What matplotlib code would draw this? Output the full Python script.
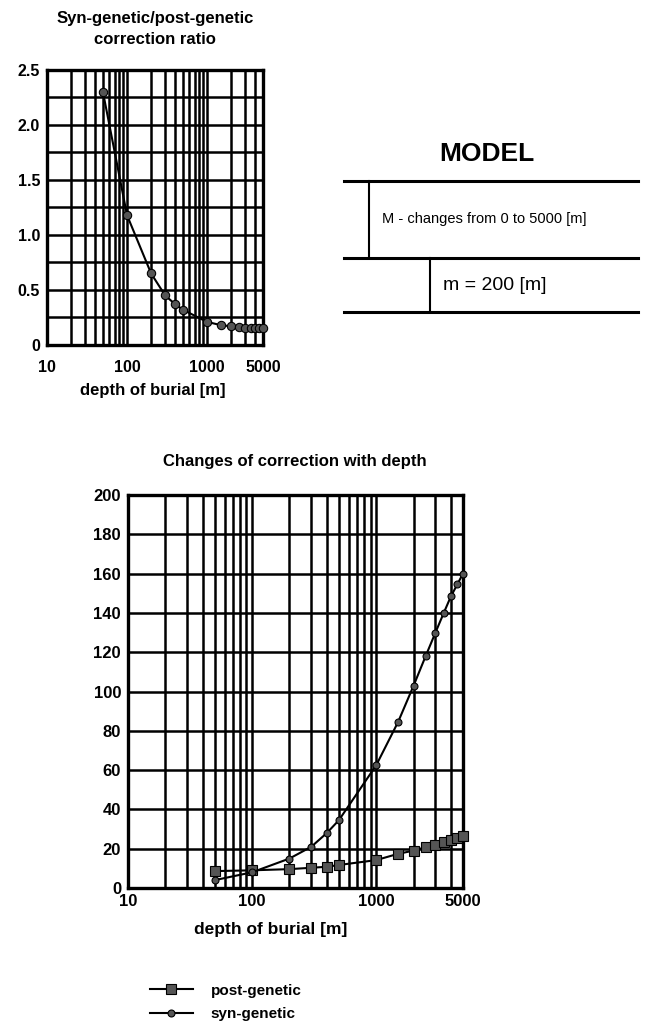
import matplotlib
matplotlib.use("Agg")
import matplotlib.pyplot as plt
import numpy as np
from matplotlib.ticker import FixedLocator, NullFormatter

plt.rcParams['font.family'] = ['Liberation Sans', 'DejaVu Sans']

depth = [50, 100, 200, 300, 400, 500, 1000, 1500, 2000, 2500, 3000, 3500, 4000, 4500, 5000]
ratio = [2.3, 1.18, 0.65, 0.45, 0.37, 0.32, 0.21, 0.18, 0.17, 0.16, 0.155, 0.15, 0.15, 0.15, 0.155]
syn_genetic = [4, 8, 15, 21, 28, 34.5, 62.5, 84.5, 103, 118, 130, 140, 148.5, 154.5, 160]
post_genetic = [8.6, 9, 9.6, 10.3, 10.8, 11.7, 14.2, 17.4, 19, 20.8, 22, 23.3, 24.5, 25.5, 26.5]

x_ticks = [10, 100, 1000, 5000]
x_tick_labels = ["10", "100", "1000", "5000"]
top_y_ticks = [0, 0.5, 1.0, 1.5, 2.0, 2.5]
top_y_labels = ["0", "0.5", "1.0", "1.5", "2.0", "2.5"]
bot_y_ticks = list(range(0, 201, 20))

W, H = 667, 1021
fig = plt.figure(figsize=(W / 100, H / 100), dpi=100)

def px_axes(l, t, r, b):
    return fig.add_axes([l / W, 1 - b / H, (r - l) / W, (b - t) / H])

minor_x = [v * m for m in (10, 100, 1000) for v in range(2, 10)]
minor_x = [v for v in minor_x if v < 5000]

def style_axes(ax, yticks, ylabels, ygrid, ylim, fs, xpad):
    ax.set_xscale('log')
    ax.set_xlim(10, 5000)
    ax.set_ylim(*ylim)
    ax.xaxis.set_major_locator(FixedLocator(x_ticks))
    ax.set_xticklabels(x_tick_labels)
    ax.xaxis.set_minor_locator(FixedLocator(minor_x))
    ax.xaxis.set_minor_formatter(NullFormatter())
    ax.set_yticks(yticks)
    ax.set_yticklabels(ylabels)
    ax.yaxis.set_minor_locator(FixedLocator(ygrid))
    for v in x_ticks + minor_x:
        ax.axvline(v, color='black', lw=1.8, zorder=1)
    for v in ygrid:
        ax.axhline(v, color='black', lw=1.8, zorder=1)
    ax.tick_params(which='both', length=0, labelsize=fs)
    ax.tick_params(axis='x', pad=xpad)
    ax.tick_params(axis='y', pad=5)
    for lab in ax.get_xticklabels() + ax.get_yticklabels():
        lab.set_fontweight('bold')
    for s in ax.spines.values():
        s.set_linewidth(2.4)
        s.set_zorder(3)

# Top chart
ax1 = px_axes(47, 70, 263, 345)
style_axes(ax1, top_y_ticks, top_y_labels, list(np.arange(0, 2.51, 0.25)), (0, 2.5), 11.5, 11)
ax1.plot(depth, ratio, color='black', lw=1.5, marker='o', ms=6,
         mfc='#555555', mec='black', mew=0.8, zorder=4, clip_on=False)
fig.text(155 / W, 1 - 19 / H, "Syn-genetic/post-genetic", ha='center', va='center',
         fontsize=12, fontweight='bold')
fig.text(155 / W, 1 - 40 / H, "correction ratio", ha='center', va='center',
         fontsize=12, fontweight='bold')
fig.text(153 / W, 1 - 390 / H, "depth of burial [m]", ha='center', va='center',
         fontsize=12, fontweight='bold')

# Model schematic
fig.text(487 / W, 1 - 154 / H, "MODEL", ha='center', va='center',
         fontsize=19, fontweight='bold')
for yy in (181, 258, 312):
    fig.add_artist(plt.Line2D([344 / W, 638 / W], [1 - yy / H, 1 - yy / H],
                              color='black', lw=2.2))
fig.add_artist(plt.Line2D([369 / W, 369 / W], [1 - 181 / H, 1 - 258 / H], color='black', lw=1.5))
fig.add_artist(plt.Line2D([430 / W, 430 / W], [1 - 258 / H, 1 - 312 / H], color='black', lw=1.5))
fig.text(382 / W, 1 - 219 / H, "M - changes from 0 to 5000 [m]", ha='left', va='center',
         fontsize=10.5)
fig.text(443 / W, 1 - 285 / H, "m = 200 [m]", ha='left', va='center',
         fontsize=14)

# Bottom chart
ax2 = px_axes(128, 495, 463, 888)
style_axes(ax2, bot_y_ticks, [str(v) for v in bot_y_ticks], bot_y_ticks, (0, 200), 12, 4.5)
l_post, = ax2.plot(depth, post_genetic, color='black', lw=1.5, marker='s', ms=7,
                   mfc='#555555', mec='black', mew=0.8, zorder=4, clip_on=False)
l_syn, = ax2.plot(depth, syn_genetic, color='black', lw=1.5, marker='o', ms=5,
                  mfc='#555555', mec='black', mew=0.8, zorder=5, clip_on=False)
fig.text(295 / W, 1 - 461 / H, "Changes of correction with depth", ha='center', va='center',
         fontsize=12, fontweight='bold')
fig.text(271 / W, 1 - 929 / H, "depth of burial [m]", ha='center', va='center',
         fontsize=12.5, fontweight='bold')

leg = fig.legend([l_post, l_syn], ["post-genetic", "syn-genetic"],
                 loc='upper left', bbox_to_anchor=(136 / W, 1 - 970 / H),
                 frameon=False, handlelength=2.8, handletextpad=1.2,
                 labelspacing=0.6, prop={'weight': 'bold', 'size': 11})

fig.savefig("out.png", dpi=100)
